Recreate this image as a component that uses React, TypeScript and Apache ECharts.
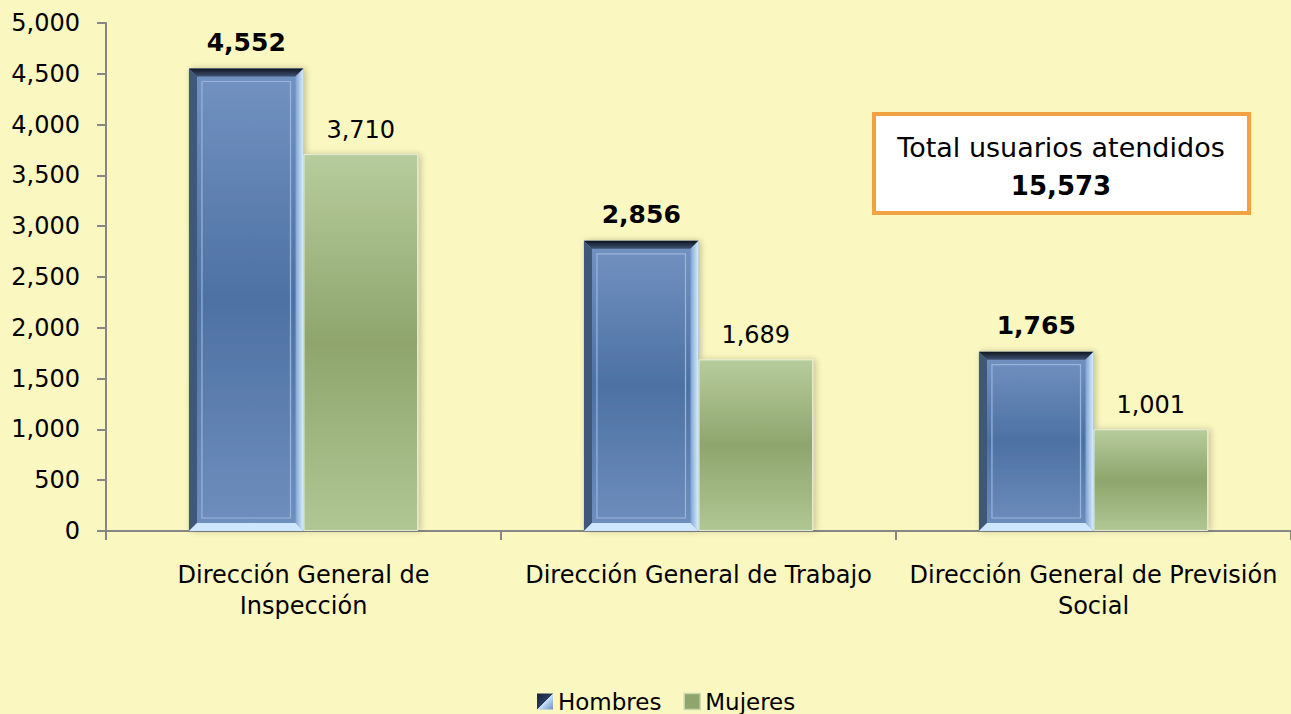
import React, { useEffect, useRef } from "react";
import * as echarts from "echarts";

const categories = [
  "Dirección General de\nInspección",
  "Dirección General de Trabajo",
  "Dirección General de Previsión\nSocial",
];
const hombres = [4552, 2856, 1765];
const mujeres = [3710, 1689, 1001];
const totalLabel = "Total usuarios atendidos";
const totalValue = "15,573";

const FONT = "DejaVu Sans";
const CAT_GAP = 0.42;

const fmt = (v: number) => v.toLocaleString("en-US");

export default function App() {
  const ref = useRef<HTMLDivElement>(null);
  useEffect(() => {
    if (!ref.current) return;
    const chart = echarts.init(ref.current, null, { renderer: "svg" });
    const blue = new echarts.graphic.LinearGradient(0, 0, 0, 1, [
      { offset: 0, color: "#7393c2" },
      { offset: 0.5, color: "#4d71a3" },
      { offset: 1, color: "#6f8fbe" },
    ]);
    const green = new echarts.graphic.LinearGradient(0, 0, 0, 1, [
      { offset: 0, color: "#b7cc9c" },
      { offset: 0.5, color: "#8fa56d" },
      { offset: 1, color: "#b0c794" },
    ]);
    const legendBlue = new echarts.graphic.LinearGradient(0, 0, 1, 1, [
      { offset: 0, color: "#16223a" },
      { offset: 0.5, color: "#2a3d5c" },
      { offset: 0.5, color: "#c9e4ff" },
      { offset: 1, color: "#6d8fc0" },
    ]);
    const renderBevel = (params: any, api: any) => {
      const idx = api.value(0);
      const v = api.value(1);
      const base = api.coord([idx, 0]);
      const top = api.coord([idx, v]);
      const catW = api.size([1, 0])[0];
      const bw = (catW * (1 - CAT_GAP)) / 2;
      const x0 = base[0] - bw;
      const x1 = base[0];
      const y0 = top[1];
      const y1 = base[1];
      const b = 8;
      return {
        type: "group",
        children: [
          {
            type: "polygon",
            shape: { points: [[x0, y0], [x1, y0], [x1 - b, y0 + b], [x0 + b, y0 + b]] },
            style: {
              fill: new echarts.graphic.LinearGradient(0, 0, 0, 1, [
                { offset: 0, color: "#0f1520" },
                { offset: 1, color: "#3e5272" },
              ]),
            },
          },
          {
            type: "polygon",
            shape: { points: [[x0, y0], [x0 + b, y0 + b], [x0 + b, y1 - b], [x0, y1]] },
            style: { fill: "#3f5778" },
          },
          {
            type: "polygon",
            shape: { points: [[x1, y0], [x1, y1], [x1 - b, y1 - b], [x1 - b, y0 + b]] },
            style: {
              fill: new echarts.graphic.LinearGradient(0, 0, 1, 0, [
                { offset: 0, color: "#7fa3d2" },
                { offset: 1, color: "#d8efff" },
              ]),
            },
          },
          {
            type: "polygon",
            shape: { points: [[x0, y1], [x1, y1], [x1 - b, y1 - b], [x0 + b, y1 - b]] },
            style: { fill: "#cfe6ff" },
          },
          {
            type: "rect",
            shape: { x: x0 + b + 5, y: y0 + b + 5, width: bw - 2 * b - 10, height: y1 - y0 - 2 * b - 10 },
            style: { fill: "none", stroke: "#9ab5da", lineWidth: 1.2 },
          },
        ],
      };
    };
    chart.setOption({
      animation: false,
      backgroundColor: "#fbf7c0",
      textStyle: { fontFamily: FONT },
      grid: { left: 106, right: 0, top: 23, bottom: 183, containLabel: false },
      legend: {
        bottom: -4,
        left: 532,
        itemWidth: 16,
        itemHeight: 16,
        itemGap: 22,
        textStyle: { fontSize: 23, color: "#000", fontFamily: FONT },
        data: [
          { name: "Hombres", icon: "rect", itemStyle: { color: legendBlue } },
          { name: "Mujeres", icon: "rect", itemStyle: { color: "#8fa56d", borderColor: "#c8d8b0", borderWidth: 1.5 } },
        ],
      },
      xAxis: {
        type: "category",
        data: categories,
        axisLine: { lineStyle: { color: "#868686", width: 2 } },
        axisTick: { show: true, length: 9, alignWithLabel: false, lineStyle: { color: "#868686", width: 2 } },
        axisLabel: {
          color: "#000",
          fontSize: 24,
          fontFamily: FONT,
          margin: 28,
          lineHeight: 31,
          interval: 0,
        },
      },
      yAxis: {
        type: "value",
        min: 0,
        max: 5000,
        interval: 500,
        splitLine: { show: false },
        axisLine: { show: true, lineStyle: { color: "#868686", width: 2 } },
        axisTick: { show: true, length: 9, lineStyle: { color: "#868686", width: 2 } },
        axisLabel: {
          color: "#000",
          fontSize: 24,
          fontFamily: FONT,
          margin: 26,
          formatter: (v: number) => fmt(v),
        },
      },
      series: [
        {
          name: "Hombres",
          type: "bar",
          data: hombres,
          barGap: "0%",
          barCategoryGap: CAT_GAP * 100 + "%",
          itemStyle: {
            color: blue,
            shadowColor: "rgba(0,0,0,0.25)",
            shadowBlur: 6,
            shadowOffsetX: 2,
          },
          label: {
            show: true,
            position: "top",
            distance: 14,
            color: "#000",
            fontSize: 25,
            fontWeight: "bold",
            fontFamily: FONT,
            formatter: (p: any) => fmt(p.value),
          },
        },
        {
          name: "Mujeres",
          type: "bar",
          data: mujeres,
          itemStyle: {
            color: green,
            borderColor: "#e4ecd6",
            borderWidth: 1,
            shadowColor: "rgba(0,0,0,0.2)",
            shadowBlur: 6,
            shadowOffsetX: 3,
          },
          label: {
            show: true,
            position: "top",
            distance: 12,
            color: "#000",
            fontSize: 24,
            fontFamily: FONT,
            formatter: (p: any) => fmt(p.value),
          },
        },
        {
          name: "HombresBevel",
          type: "custom",
          silent: true,
          z: 3,
          renderItem: renderBevel,
          encode: { x: 0, y: 1 },
          data: hombres.map((v, i) => [i, v]),
        },
      ],
      graphic: [
        {
          type: "group",
          left: 872,
          top: 112,
          children: [
            {
              type: "rect",
              shape: { x: 0, y: 0, width: 375, height: 99 },
              style: { fill: "#ffffff", stroke: "#f1a243", lineWidth: 4 },
            },
            {
              type: "text",
              style: {
                x: 187,
                y: 33,
                text: totalLabel,
                align: "center",
                verticalAlign: "middle",
                font: `27px "${FONT}"`,
                fill: "#000",
              },
            },
            {
              type: "text",
              style: {
                x: 187,
                y: 72,
                text: totalValue,
                align: "center",
                verticalAlign: "middle",
                font: `bold 26px "${FONT}"`,
                fill: "#000",
              },
            },
          ],
        },
      ],
    });
    return () => chart.dispose();
  }, []);
  return <div ref={ref} style={{ width: 1291, height: 714, position: "absolute", left: 0, top: 0 }} />;
}
